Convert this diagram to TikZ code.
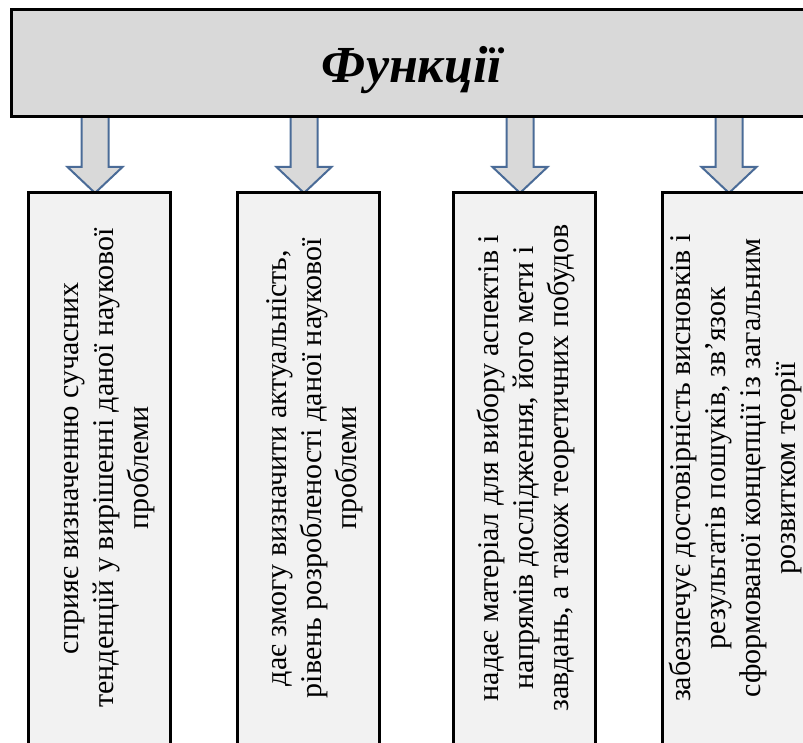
\documentclass[tikz,border=0pt]{standalone}
\usepackage{fontspec}
\setmainfont{Liberation Serif}
\usetikzlibrary{calc,backgrounds}
\definecolor{headgray}{HTML}{D9D9D9}
\definecolor{boxgray}{HTML}{F2F2F2}
\definecolor{arrowblue}{HTML}{4A6B97}
\begin{document}
\begin{tikzpicture}[x=1pt,y=1pt,
  headbox/.style={draw, line width=3pt, fill=headgray, minimum width=802pt, minimum height=107pt, outer sep=0pt, inner sep=0pt, text height=48pt, text depth=10pt, font=\fontsize{52}{60}\selectfont\bfseries\itshape},
  fnbox/.style={draw, line width=3pt, fill=boxgray, minimum width=142pt, minimum height=620pt, anchor=north west, outer sep=0pt},
  fntext/.style={rotate=90, align=center, inner sep=0pt, font=\fontsize{30}{35}\selectfont},
  blockarrow/.style={draw=arrowblue, line width=2pt, fill=headgray, line join=miter}]
\useasboundingbox (0,0) rectangle (803,742);
\clip (0,0) rectangle (803,742);
\node[headbox] (head) at (412,678.5) {Функції};
\node[fnbox] (f1) at (28,549) {};
\node[fnbox] (f2) at (237,549) {};
\node[fnbox] (f3) at (453,549) {};
\node[fnbox] (f4) at (662,549) {};
\node[fntext] (t1) at (110,274) {сприяє визначенню сучасних\\тенденцій у вирішенні даної наукової\\проблеми};
\node[fntext] (t2) at (315,274) {дає змогу визначити актуальність,\\рівень розробленості даної наукової\\проблеми};
\node[fntext] (t3) at (526,274) {надає матеріал для вибору аспектів і\\напрямів дослідження, його мети і\\завдань, а також теоретичних побудов};
\node[fntext] (t4) at (735,274) {забезпечує достовірність висновків і\\результатів пошуків, зв’язок\\сформованої концепції із загальним\\розвитком теорії};
\begin{scope}[on background layer]
\foreach \b in {f1,f2,f3,f4}
  \draw[blockarrow] ($(\b.north)+(-4,0)$) -- ++(-27.5,26) -- ++(14,0)
    -- ($(\b.north |- head.south)+(-17.5,0)$) -- ++(27,0) -- ++(0,-50)
    -- ++(14,0) -- cycle;
\end{scope}
\end{tikzpicture}
\end{document}
